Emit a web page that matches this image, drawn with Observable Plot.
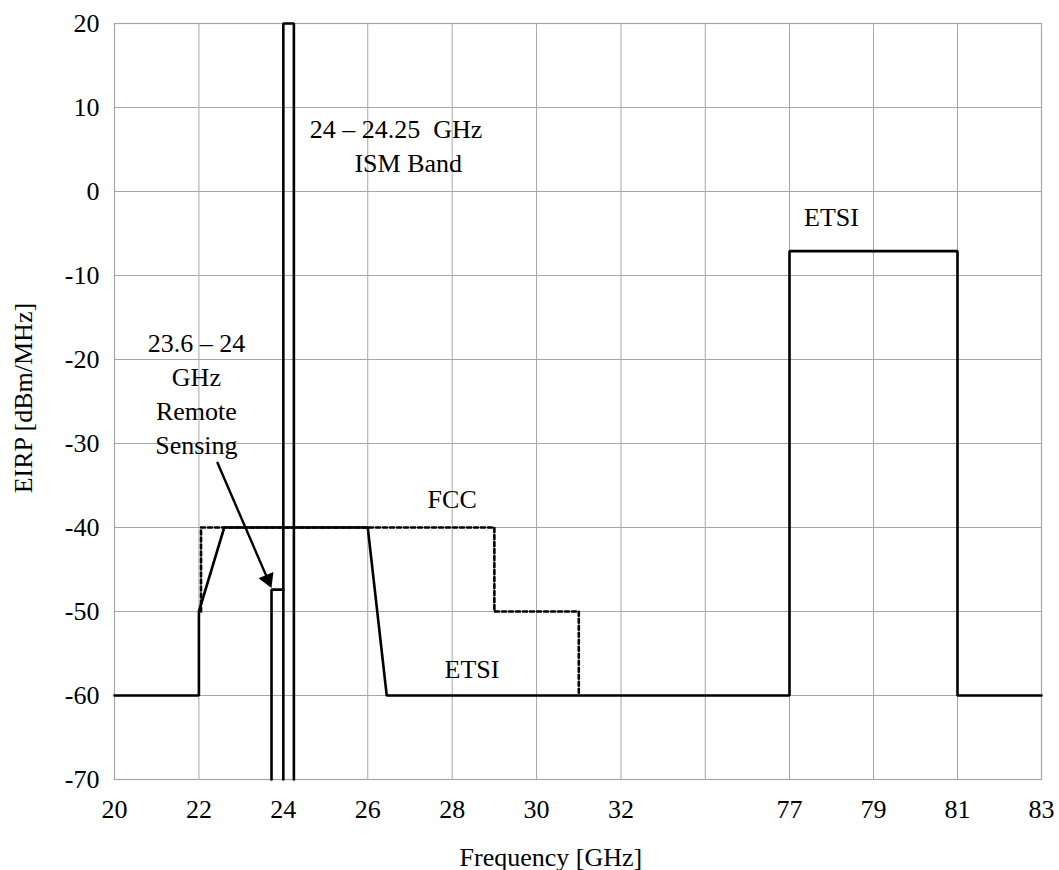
<!DOCTYPE html>
<html>
<head>
<meta charset="utf-8">
<script src="https://cdn.jsdelivr.net/npm/d3@7"></script>
<script src="https://cdn.jsdelivr.net/npm/@observablehq/plot@0.6"></script>
<style>
  html, body { margin: 0; padding: 0; background: #fff; overflow: hidden; }
</style>
</head>
<body>
<div id="chart"></div>
<script>
// Axis ticks
const xTicks = [20, 22, 24, 26, 28, 30, 32, 77, 79, 81, 83];
const xGridExtra = [54.5];
const yTicks = [20, 10, 0, -10, -20, -30, -40, -50, -60, -70];

// ETSI mask (solid)
const etsiFreq = [20, 22, 22, 22.6, 26, 26.45, 77, 77, 81, 81, 83];
const etsiEirp = [-60, -60, -50, -40, -40, -60, -60, -7.1, -7.1, -60, -60];

// FCC mask (dashed)
const fccFreq = [22.05, 22.05, 29, 29, 31, 31];
const fccEirp = [-50, -40, -40, -50, -50, -60];

// 24 - 24.25 GHz ISM band
const ismFreq = [24, 24, 24.25, 24.25];
const ismEirp = [-70, 20, 20, -70];

// 23.6 - 24 GHz remote sensing band
const remoteFreq = [23.72, 23.72, 24];
const remoteEirp = [-70, -47.4, -47.4];

// Arrow (start, tip)
const arrowFreq = [22.44, 23.72];
const arrowEirp = [-32.3, -47.2];

// Annotations
const labelText = ["24 – 24.25  GHz", "ISM Band", "23.6 – 24\nGHz\nRemote\nSensing", "FCC", "ETSI", "ETSI"];
const labelFreq = [26.67, 26.96, 21.94, 28, 28.47, 78];
const labelEirp = [6.4, 2.3, -31.2, -37.7, -57.9, -4.05];

const toRows = (xs, ys) => xs.map((x, i) => ({x, y: ys[i]}));
const labels = labelText.map((t, i) => ({t, x: labelFreq[i], y: labelEirp[i]}));

const grid = "#a6a6a6";
const plot = Plot.plot({
  width: 1059,
  height: 870,
  marginLeft: 114,
  marginRight: 18,
  marginTop: 23,
  marginBottom: 91,
  style: {
    fontFamily: '"Liberation Serif", "Times New Roman", serif',
    fontSize: "26px",
    color: "#000",
    background: "#fff"
  },
  x: {type: "linear", domain: [20, 32, 77, 83], range: [114, 620.5, 789, 1041]},
  y: {domain: [-70, 20]},
  marks: [
    Plot.ruleX([...xTicks, ...xGridExtra], {stroke: grid, strokeWidth: 1}),
    Plot.ruleY(yTicks, {stroke: grid, strokeWidth: 1}),
    Plot.frame({stroke: grid, strokeWidth: 1.2}),
    Plot.axisX({ticks: xTicks, tickSize: 0, tickPadding: 20, tickFormat: d => String(d), label: null, fontFamily: '"Liberation Serif", serif', fontSize: 26}),
    Plot.axisY({ticks: yTicks, tickSize: 0, tickPadding: 15, tickFormat: d => String(d), label: null, fontFamily: '"Liberation Serif", serif', fontSize: 26}),
    Plot.line(toRows(fccFreq, fccEirp), {x: "x", y: "y", stroke: "#000", strokeWidth: 2.6, strokeDasharray: "4,3"}),
    Plot.line(toRows(etsiFreq, etsiEirp), {x: "x", y: "y", stroke: "#000", strokeWidth: 2.6, strokeLinejoin: "miter"}),
    Plot.line(toRows(ismFreq, ismEirp), {x: "x", y: "y", stroke: "#000", strokeWidth: 2.6, strokeLinejoin: "miter"}),
    Plot.line(toRows(remoteFreq, remoteEirp), {x: "x", y: "y", stroke: "#000", strokeWidth: 2.6, strokeLinejoin: "miter"}),
    Plot.arrow([0], {x1: [arrowFreq[0]], y1: [arrowEirp[0]], x2: [arrowFreq[1]], y2: [arrowEirp[1]], headLength: 0, insetEnd: 8, stroke: "#000", strokeWidth: 2.4}),
    Plot.dot([0], {x: [arrowFreq[1]], y: [arrowEirp[1]], symbol: "triangle", r: 6, fill: "#000", stroke: "none", rotate: 157, dx: -3.7, dy: -8.6}),
    Plot.text(labels, {x: "x", y: "y", text: "t", lineAnchor: "bottom", lineHeight: 1.3, fill: "#000"}),
    Plot.text(["Frequency [GHz]"], {x: [30.34], text: d => d, frameAnchor: "bottom", dy: 86, lineAnchor: "bottom", textAnchor: "middle", fill: "#000"}),
    Plot.text(["EIRP [dBm/MHz]"], {y: [-24.6], text: d => d, frameAnchor: "left", dx: -83, rotate: -90, lineAnchor: "bottom", textAnchor: "middle", fill: "#000"})
  ]
});
document.getElementById("chart").appendChild(plot);
</script>
</body>
</html>
